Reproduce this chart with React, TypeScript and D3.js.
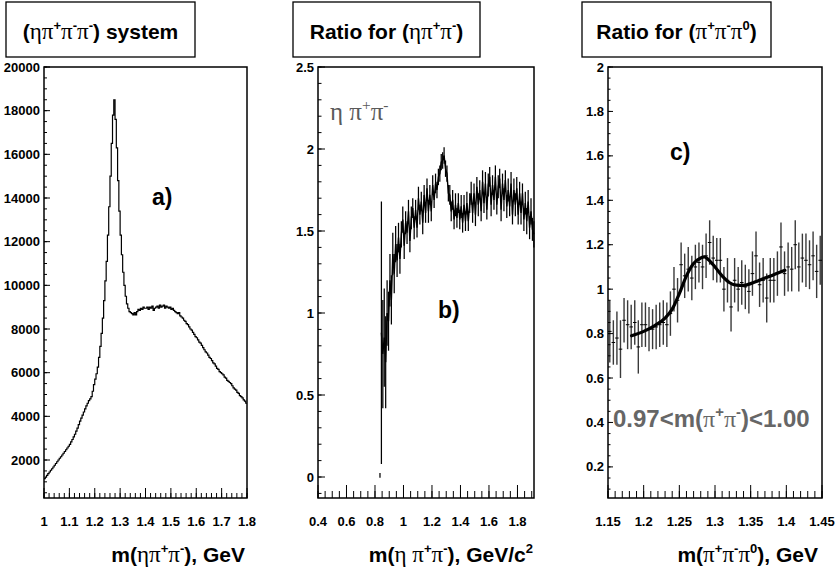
import React from 'react';
import * as d3 from 'd3';

const W = 835;
const H = 573;
const SANS = "'Liberation Sans', Arial, Helvetica, sans-serif";
const SERIF = "'Liberation Serif', 'Times New Roman', serif";

// ---------- Panel a: eta pi+ pi- mass spectrum (histogram, 0.005 GeV bins from 1.0) ----------
const aBinStart = 1.0;
const aBinWidth = 0.005;
const aCounts = [
  1150, 1220, 1300, 1380, 1450, 1530, 1600, 1680, 1760, 1840,
  1920, 2000, 2080, 2150, 2230, 2310, 2390, 2470, 2550, 2630,
  2720, 2830, 2940, 3060, 3180, 3320, 3460, 3620, 3780, 3920,
  4060, 4200, 4340, 4480, 4600, 4720, 4800, 4900, 5150, 5450,
  5700, 5950, 6250, 6700, 7200, 7800, 8500, 9300, 10200, 11100,
  12300, 13600, 15000, 16500, 17800, 18500, 17600, 16300, 14800, 13400,
  12300, 11400, 10600, 10000, 9500, 9150, 8950, 8800, 8750, 8700,
  8650, 8750, 8650, 8800, 8900, 8850, 8950, 8900, 9000, 8950,
  8950, 9000, 8900, 9000, 8950, 9050, 8850, 8950, 9000, 9050,
  8950, 9100, 9000, 9050, 9100, 8950, 9050, 9000, 8950, 9000,
  8900, 8950, 8850, 8800, 8750, 8700, 8750, 8600, 8550, 8500,
  8400, 8350, 8250, 8200, 8100, 8000, 7950, 7850, 7750, 7650,
  7600, 7500, 7400, 7350, 7250, 7150, 7050, 6950, 6900, 6800,
  6700, 6650, 6550, 6450, 6400, 6300, 6200, 6150, 6050, 6000,
  5950, 5900, 5800, 5750, 5650, 5600, 5550, 5500, 5400, 5300,
  5250, 5200, 5100, 5050, 4950, 4900, 4850, 4750, 4700, 4600,
];
const aXTicks = [1.0, 1.1, 1.2, 1.3, 1.4, 1.5, 1.6, 1.7, 1.8];
const aXLabels = ['1', '1.1', '1.2', '1.3', '1.4', '1.5', '1.6', '1.7', '1.8'];
const aYTicks = [2000, 4000, 6000, 8000, 10000, 12000, 14000, 16000, 18000, 20000];
const aYLabels = ['2000', '4000', '6000', '8000', '10000', '12000', '14000', '16000', '18000', '20000'];

// ---------- Panel b: ratio for eta pi+ pi- (0.01 bins, centres from 0.835) ----------
const bBinStart = 0.835;
const bBinWidth = 0.01;
const bRatio = [
  0.01, 0.88, 0.75, 0.85, 0.70, 1.00,
  0.95, 1.20, 1.08, 1.36, 1.24, 1.42, 1.32, 1.46, 1.33, 1.48,
  1.57, 1.41, 1.55, 1.49, 1.62, 1.44, 1.58, 1.64, 1.52, 1.63,
  1.52, 1.70, 1.60, 1.68, 1.55, 1.72, 1.61, 1.76, 1.62, 1.72,
  1.62, 1.78, 1.69, 1.79, 1.75, 1.83, 1.85, 1.92, 1.93, 1.96,
  1.88, 1.85, 1.73, 1.72, 1.62, 1.69, 1.57, 1.66, 1.58, 1.67,
  1.57, 1.65, 1.55, 1.66, 1.56, 1.67, 1.56, 1.67, 1.73, 1.61,
  1.73, 1.60, 1.77, 1.66, 1.75, 1.62, 1.80, 1.67, 1.79, 1.63,
  1.78, 1.83, 1.66, 1.78, 1.69, 1.83, 1.66, 1.77, 1.82, 1.63,
  1.79, 1.69, 1.81, 1.65, 1.75, 1.65, 1.79, 1.60, 1.75, 1.66,
  1.76, 1.60, 1.73, 1.61, 1.73, 1.57, 1.67, 1.56, 1.68, 1.52,
  1.62, 1.51, 1.48,
];
const bErr = [
  0.015, 0.80, 0.33, 0.30, 0.28, 0.20,
  0.18, 0.16, 0.15, 0.13, 0.12, 0.11, 0.10, 0.09, 0.09, 0.08,
  0.08, 0.08, 0.07, 0.07, 0.07, 0.07, 0.07, 0.06, 0.07, 0.06,
  0.06, 0.07, 0.06, 0.06, 0.07, 0.06, 0.06, 0.06, 0.07, 0.06,
  0.06, 0.06, 0.05, 0.06, 0.05, 0.05, 0.05, 0.05, 0.05, 0.05,
  0.05, 0.05, 0.05, 0.06, 0.06, 0.06, 0.06, 0.07, 0.06, 0.06,
  0.06, 0.07, 0.06, 0.06, 0.06, 0.07, 0.06, 0.06, 0.07, 0.06,
  0.06, 0.07, 0.06, 0.07, 0.06, 0.06, 0.07, 0.06, 0.07, 0.06,
  0.07, 0.06, 0.07, 0.06, 0.06, 0.07, 0.06, 0.07, 0.06, 0.07,
  0.06, 0.07, 0.06, 0.07, 0.07, 0.06, 0.07, 0.06, 0.07, 0.07,
  0.07, 0.06, 0.07, 0.07, 0.06, 0.07, 0.07, 0.08, 0.07, 0.07,
  0.08, 0.07, 0.08,
];
const bXTicks = [0.4, 0.6, 0.8, 1.0, 1.2, 1.4, 1.6, 1.8];
const bXLabels = ['0.4', '0.6', '0.8', '1', '1.2', '1.4', '1.6', '1.8'];
const bYTicks = [0, 0.5, 1, 1.5, 2, 2.5];
const bYLabels = ['0', '0.5', '1', '1.5', '2', '2.5'];

// ---------- Panel c: ratio for pi+ pi- pi0 (0.005 bins, centres from 1.1525) ----------
const cBinStart = 1.1525;
const cBinWidth = 0.005;
const cRatio = [
  0.81, 0.76, 0.78, 0.73, 0.86, 0.84, 0.83, 0.85, 0.74, 0.84,
  0.84, 0.82, 0.82, 0.83, 0.84, 0.85, 0.84, 0.89, 1.00, 0.95,
  1.11, 1.06, 1.09, 1.05, 1.10, 1.12, 1.10, 1.15, 1.21, 1.14,
  1.13, 1.13, 1.00, 1.04, 0.92, 1.04, 1.00, 1.03, 1.01, 0.99,
  1.07, 1.15, 1.02, 1.04, 0.96, 1.04, 1.04, 1.07, 1.19, 1.07,
  1.10, 1.09, 1.20, 1.10, 1.14, 1.13, 1.11, 1.15, 1.08, 1.13,
];
const cErr = [
  0.14, 0.10, 0.12, 0.13, 0.10, 0.11, 0.10, 0.10, 0.12, 0.10,
  0.10, 0.10, 0.09, 0.10, 0.10, 0.10, 0.10, 0.10, 0.10, 0.10,
  0.10, 0.10, 0.10, 0.10, 0.10, 0.09, 0.10, 0.10, 0.10, 0.10,
  0.10, 0.10, 0.10, 0.10, 0.11, 0.10, 0.10, 0.10, 0.10, 0.10,
  0.10, 0.11, 0.10, 0.10, 0.11, 0.10, 0.10, 0.10, 0.11, 0.10,
  0.11, 0.10, 0.11, 0.11, 0.11, 0.12, 0.11, 0.11, 0.12, 0.11,
];
const cFitMass = [1.183, 1.2, 1.215, 1.23, 1.24, 1.25, 1.26, 1.27, 1.28, 1.285, 1.29, 1.3, 1.31, 1.32, 1.33, 1.34, 1.35, 1.36, 1.37, 1.38, 1.39, 1.398];
const cFitValue = [0.79, 0.81, 0.835, 0.87, 0.91, 0.98, 1.06, 1.115, 1.14, 1.145, 1.135, 1.10, 1.06, 1.03, 1.018, 1.017, 1.025, 1.037, 1.05, 1.062, 1.075, 1.085];
const cXTicks = [1.15, 1.2, 1.25, 1.3, 1.35, 1.4, 1.45];
const cXLabels = ['1.15', '1.2', '1.25', '1.3', '1.35', '1.4', '1.45'];
const cYTicks = [0.2, 0.4, 0.6, 0.8, 1.0, 1.2, 1.4, 1.6, 1.8, 2.0];
const cYLabels = ['0.2', '0.4', '0.6', '0.8', '1', '1.2', '1.4', '1.6', '1.8', '2'];

type Seg = { t: string; serif?: boolean; sup?: boolean; w?: string };

function Rich(props: { x: number; y: number; segs: Seg[]; size: number; anchor?: string; fill?: string; weight?: string; greekScale?: number }) {
  const { x, y, segs, size, anchor = 'start', fill = '#000', weight = 'bold', greekScale = 1.1 } = props;
  const supSize = size * 0.62;
  const shift = size * 0.42;
  let raised = false;
  const spans = segs.map((s, i) => {
    let dy = 0;
    if (s.sup && !raised) { dy = -shift; raised = true; }
    else if (!s.sup && raised) { dy = shift; raised = false; }
    const fw = s.w ? s.w : s.serif ? 'normal' : weight;
    const fs = s.sup ? supSize : s.serif ? size * greekScale : size;
    return (
      <tspan key={i} dy={dy !== 0 ? dy : undefined} fontFamily={s.serif ? SERIF : SANS} fontSize={fs} fontWeight={fw}>
        {s.t}
      </tspan>
    );
  });
  return (
    <text x={x} y={y} textAnchor={anchor as any} fill={fill} style={{ whiteSpace: 'pre' }}>
      {spans}
    </text>
  );
}

type AxisSpec = {
  x: d3.ScaleLinear<number, number>;
  y: d3.ScaleLinear<number, number>;
  xTicks: number[];
  xLabels: string[];
  xMinorStep: number;
  xMajorLen: number;
  xMinorLen: number;
  yTicks: number[];
  yLabels: string[];
  yMinorStep: number;
  yMajorLen: number;
  yMinorLen: number;
};

function Axes({ s }: { s: AxisSpec }) {
  const [x0, x1] = s.x.range();
  const [y0, y1] = s.y.range();
  const [dx0, dx1] = s.x.domain();
  const [dy0, dy1] = s.y.domain();
  const xMinor: number[] = [];
  for (let v = Math.ceil(dx0 / s.xMinorStep - 1e-6) * s.xMinorStep; v <= dx1 + 1e-9; v += s.xMinorStep) xMinor.push(v);
  const yMinor: number[] = [];
  for (let v = Math.ceil(dy0 / s.yMinorStep - 1e-6) * s.yMinorStep; v <= dy1 + 1e-9; v += s.yMinorStep) yMinor.push(v);
  return (
    <g>
      {xMinor.map((v, i) => (
        <line key={'xm' + i} x1={s.x(v)} x2={s.x(v)} y1={y0} y2={y0 - s.xMinorLen} stroke="#000" strokeWidth={1} />
      ))}
      {s.xTicks.map((v, i) => (
        <line key={'xM' + i} x1={s.x(v)} x2={s.x(v)} y1={y0} y2={y0 - s.xMajorLen} stroke="#000" strokeWidth={1} />
      ))}
      {yMinor.map((v, i) => (
        <line key={'ym' + i} x1={x0} x2={x0 + s.yMinorLen} y1={s.y(v)} y2={s.y(v)} stroke="#000" strokeWidth={1} />
      ))}
      {s.yTicks.map((v, i) => (
        <line key={'yM' + i} x1={x0} x2={x0 + s.yMajorLen} y1={s.y(v)} y2={s.y(v)} stroke="#000" strokeWidth={1} />
      ))}
      {s.xTicks.map((v, i) => (
        <text key={'xl' + i} x={s.x(v)} y={526} textAnchor="middle" fontFamily={SANS} fontWeight="bold" fontSize={13} fill="#000">
          {s.xLabels[i]}
        </text>
      ))}
      {s.yTicks.map((v, i) => (
        <text key={'yl' + i} x={x0 - 4} y={s.y(v) + 4.6} textAnchor="end" fontFamily={SANS} fontWeight="bold" fontSize={13} fill="#000">
          {s.yLabels[i]}
        </text>
      ))}
      <rect x={x0} y={y1} width={x1 - x0} height={y0 - y1} fill="none" stroke="#000" strokeWidth={1.5} />
    </g>
  );
}

function TitleBox({ x, w, segs }: { x: number; w: number; segs: Seg[] }) {
  return (
    <g>
      <rect x={x} y={2} width={w} height={55} fill="#fff" stroke="#000" strokeWidth={1.3} />
      <Rich x={x + w / 2} y={39} segs={segs} size={21} anchor="middle" />
    </g>
  );
}

export default function App() {
  const xA = d3.scaleLinear().domain([1.0, 1.8]).range([44, 247]);
  const yA = d3.scaleLinear().domain([260, 20000]).range([498, 67]);
  const xB = d3.scaleLinear().domain([0.4, 1.916]).range([318, 534]);
  const yB = d3.scaleLinear().domain([-0.128, 2.5]).range([498, 67]);
  const xC = d3.scaleLinear().domain([1.15, 1.45]).range([608, 822]);
  const yC = d3.scaleLinear().domain([0.06, 2.0]).range([498, 67]);

  const aPts: [number, number][] = aCounts.map((c, i) => [aBinStart + i * aBinWidth, c]);
  aPts.push([aBinStart + aCounts.length * aBinWidth, aCounts[aCounts.length - 1]]);
  const histPath = d3
    .line<[number, number]>()
    .x((d) => xA(d[0]))
    .y((d) => yA(d[1]))
    .curve(d3.curveStepAfter)(aPts) as string;

  const bPts: [number, number][] = bRatio.map((v, i) => [bBinStart + i * bBinWidth, v]);
  const bPath = d3
    .line<[number, number]>()
    .x((d) => xB(d[0]))
    .y((d) => yB(d[1]))(bPts.slice(1)) as string;

  const fitPts: [number, number][] = cFitMass.map((m, i) => [m, cFitValue[i]]);
  const fitPath = d3
    .line<[number, number]>()
    .x((d) => xC(d[0]))
    .y((d) => yC(d[1]))
    .curve(d3.curveMonotoneX)(fitPts) as string;

  const specA: AxisSpec = {
    x: xA, y: yA, xTicks: aXTicks, xLabels: aXLabels, xMinorStep: 0.02, xMajorLen: 10, xMinorLen: 5,
    yTicks: aYTicks, yLabels: aYLabels, yMinorStep: 500, yMajorLen: 6, yMinorLen: 3,
  };
  const specB: AxisSpec = {
    x: xB, y: yB, xTicks: bXTicks, xLabels: bXLabels, xMinorStep: 0.05, xMajorLen: 13, xMinorLen: 7,
    yTicks: bYTicks, yLabels: bYLabels, yMinorStep: 0.1, yMajorLen: 7, yMinorLen: 3.5,
  };
  const specC: AxisSpec = {
    x: xC, y: yC, xTicks: cXTicks, xLabels: cXLabels, xMinorStep: 0.01, xMajorLen: 13, xMinorLen: 7,
    yTicks: cYTicks, yLabels: cYLabels, yMinorStep: 0.05, yMajorLen: 5, yMinorLen: 2.5,
  };

  return (
    <svg width={W} height={H} viewBox={`0 0 ${W} ${H}`} style={{ display: 'block', position: 'absolute', left: 0, top: 0, background: '#fff' }}>
      <rect x={0} y={0} width={W} height={H} fill="#fff" />

      {/* ---------------- Panel a ---------------- */}
      <TitleBox
        x={6}
        w={189}
        segs={[
          { t: '(' },
          { t: 'ηπ', serif: true },
          { t: '+', sup: true },
          { t: 'π', serif: true },
          { t: '-', sup: true },
          { t: 'π', serif: true },
          { t: '-', sup: true },
          { t: ') system' },
        ]}
      />
      <path d={histPath} fill="none" stroke="#000" strokeWidth={1.2} />
      <Axes s={specA} />
      <text x={152} y={205} fontFamily={SANS} fontWeight="bold" fontSize={23} fill="#000">a)</text>
      <Rich
        x={245}
        y={562}
        size={21}
        anchor="end"
        segs={[
          { t: 'm(' },
          { t: 'ηπ', serif: true },
          { t: '+', sup: true },
          { t: 'π', serif: true },
          { t: '-', sup: true },
          { t: '), GeV' },
        ]}
      />

      {/* ---------------- Panel b ---------------- */}
      <TitleBox
        x={293}
        w={187}
        segs={[
          { t: 'Ratio for (' },
          { t: 'ηπ', serif: true },
          { t: '+', sup: true },
          { t: 'π', serif: true },
          { t: '-', sup: true },
          { t: ')' },
        ]}
      />
      {bPts.map((d, i) => (
        <line
          key={'be' + i}
          x1={xB(d[0])}
          x2={xB(d[0])}
          y1={yB(d[1] - bErr[i])}
          y2={yB(d[1] + bErr[i])}
          stroke="#000"
          strokeWidth={1.25}
        />
      ))}
      <path d={bPath} fill="none" stroke="#000" strokeWidth={1.4} />
      <Axes s={specB} />
      <Rich
        x={330}
        y={120}
        size={25}
        fill="#5a5a5a"
        weight="normal"
        greekScale={1}
        segs={[
          { t: 'η π', serif: true },
          { t: '+', sup: true, serif: true },
          { t: 'π', serif: true },
          { t: '-', sup: true, serif: true },
        ]}
      />
      <text x={438} y={318} fontFamily={SANS} fontWeight="bold" fontSize={23} fill="#000">b)</text>
      <Rich
        x={533}
        y={562}
        size={21}
        anchor="end"
        segs={[
          { t: 'm(' },
          { t: 'η π', serif: true },
          { t: '+', sup: true },
          { t: 'π', serif: true },
          { t: '-', sup: true },
          { t: '), GeV/c' },
          { t: '2', sup: true },
        ]}
      />

      {/* ---------------- Panel c ---------------- */}
      <TitleBox
        x={582}
        w={189}
        segs={[
          { t: 'Ratio for (' },
          { t: 'π', serif: true },
          { t: '+', sup: true },
          { t: 'π', serif: true },
          { t: '-', sup: true },
          { t: 'π', serif: true },
          { t: '0', sup: true },
          { t: ')' },
        ]}
      />
      {cRatio.map((v, i) => {
        const m = cBinStart + i * cBinWidth;
        return (
          <g key={'cp' + i}>
            <line x1={xC(m)} x2={xC(m)} y1={yC(v - cErr[i])} y2={yC(v + cErr[i])} stroke="#3a3a3a" strokeWidth={1.4} />
            <line x1={xC(m - cBinWidth / 2)} x2={xC(m + cBinWidth / 2)} y1={yC(v)} y2={yC(v)} stroke="#000" strokeWidth={1} />
          </g>
        );
      })}
      <path d={fitPath} fill="none" stroke="#000" strokeWidth={3.2} strokeLinecap="round" />
      <Axes s={specC} />
      <text x={670} y={160} fontFamily={SANS} fontWeight="bold" fontSize={23} fill="#000">c)</text>
      <Rich
        x={613}
        y={427}
        size={24}
        fill="#666"
        greekScale={1}
        segs={[
          { t: '0.97<m(' },
          { t: 'π', serif: true },
          { t: '+', sup: true },
          { t: 'π', serif: true },
          { t: '-', sup: true },
          { t: ')<1.00' },
        ]}
      />
      <Rich
        x={818}
        y={562}
        size={21}
        anchor="end"
        segs={[
          { t: 'm(' },
          { t: 'π', serif: true },
          { t: '+', sup: true },
          { t: 'π', serif: true },
          { t: '-', sup: true },
          { t: 'π', serif: true },
          { t: '0', sup: true },
          { t: '), GeV' },
        ]}
      />
    </svg>
  );
}
